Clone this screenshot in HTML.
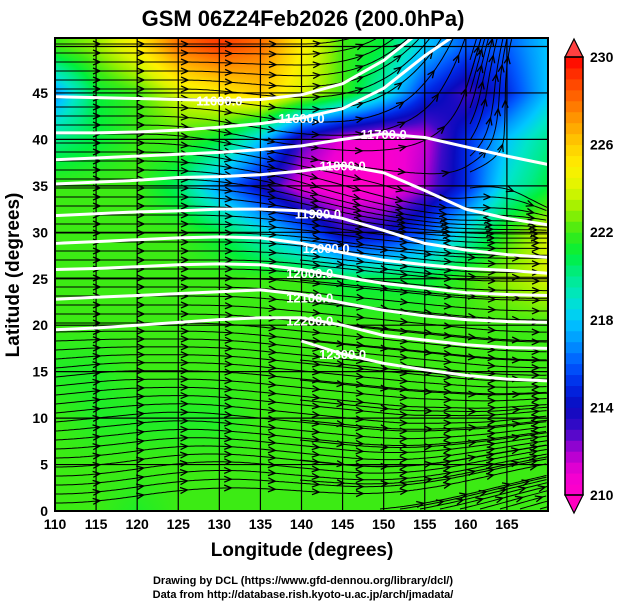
<!DOCTYPE html>
<html><head><meta charset="utf-8">
<style>
body{margin:0;background:#fff;width:619px;height:605px;overflow:hidden;font-family:"Liberation Sans",sans-serif}
svg text{font-family:"Liberation Sans",sans-serif;font-weight:bold;fill:#000}
</style></head><body>
<svg id="chart" width="619" height="605" xmlns="http://www.w3.org/2000/svg">
<text x="303" y="26" font-size="22" text-anchor="middle">GSM 06Z24Feb2026 (200.0hPa)</text>
<foreignObject x="55" y="38" width="493" height="473"><canvas xmlns="http://www.w3.org/1999/xhtml" id="cv" width="493" height="473"></canvas></foreignObject>
<g id="grid"></g>
<g id="stream"></g>
<g id="contours"></g>
<rect x="55" y="38" width="493" height="473" fill="none" stroke="#000" stroke-width="2"/>
<g id="xticks"></g>
<g id="yticks"></g>
<text x="302" y="556" font-size="19" text-anchor="middle">Longitude (degrees)</text>
<text transform="translate(19,275) rotate(-90)" font-size="19" text-anchor="middle">Latitude  (degrees)</text>
<g id="cbar"></g>
<text x="303" y="584" font-size="11" text-anchor="middle">Drawing by DCL (https://www.gfd-dennou.org/library/dcl/)</text>
<text x="303" y="598" font-size="11" text-anchor="middle">Data from http://database.rish.kyoto-u.ac.jp/arch/jmadata/</text>
</svg>
<script>
// data
const lons=[110,115,120,125,130,135,140,145,150,155,160,165,170];
const lats=[50,45,40,35,30,25,20,15,10,5,0];
const temp=[
[222,223,225,228,229,228,225,222,221,218,216,216,218],
[217,221,222,224,225,226,224,222,219,215,213,215,218],
[220,221,222,222,221,218,213,211,210.5,211.5,215,218,220],
[222,222,222,220.5,217,214,211,210,210,212,215,219,221],
[222,222,222,222,221,219,216.5,213.5,214,216,219,222,224],
[222,222,222,222,222,222,222,221,221,221,222,223,224],
[222,222,222,222,222,222,222,222,222,222,222,222,222],
[221.5,221.5,222,222,222,222,222,222,222,222,222,222,222],
[222,221.5,221.5,221.5,221.5,222,222,222,222,222,222,222,222],
[222,222,222,222,222,222,222,222,222,222,222,222,222],
[222,222,221.5,222,222,222,222,222,222,222,222,222,222]];
const uWind=[
[1,1,1,1,1,1,1,1,0.8,0.6,0.3,0.2,0.3],
[1,1,1,1,1,1,1,1,0.9,0.6,0.3,0,-0.2],
[1,1,1,1,1,1,1,1,1,0.8,0.4,0,-0.4],
[1,1,1,1,1,1,1,1,1,1,0.6,0.3,0.2],
[1,1,1,1,1,1,1,1,1,1,1,1,1],
[1,1,1,1,1,1,1,1,1,1,1,1,1],
[1,1,1,1,1,1,1,1,1,1,1,1,1],
[1,1,1,1,1,1,1,1,1,1,1,1,1],
[1,1,1,1,1,1,1,1,1,1,1,1,1],
[1,1,1,1,1,1,1,1,1,1,1,1,1],
[1,1,1,1,1,1,1,1,1,1,1,1,1]];
const vWind=[
[0,0,0,0,0,0,0,0.2,0.5,0.7,0.9,1,0.8],
[0,0,0,0,-0.1,-0.1,0,0.2,0.5,0.7,0.9,1,0.6],
[0,0,0,-0.1,-0.2,-0.2,-0.1,0,0.2,0.4,0.6,0.3,-0.5],
[0,0,0,0,-0.1,-0.2,-0.3,-0.3,-0.3,-0.2,0.1,-0.1,-0.5],
[0,0,0,0,0,-0.05,-0.1,-0.15,-0.1,-0.1,-0.05,0,0],
[0,0,0,0,0,-0.05,-0.1,-0.1,-0.1,-0.1,-0.05,0,0],
[0,0,0,0,-0.05,-0.1,-0.1,-0.1,-0.1,-0.1,-0.1,-0.05,0],
[0.1,0.1,0,0,-0.05,-0.1,-0.1,-0.1,-0.1,-0.1,-0.1,-0.05,0],
[0.1,0.1,0.1,0,-0.1,-0.1,-0.1,-0.1,-0.1,0,0,0.1,0.1],
[0,0.1,0.15,0.1,0,-0.1,-0.1,-0.1,0,0.1,0.2,0.2,0.2],
[0,0.1,0.15,0.1,0.05,0,-0.05,0,0.1,0.2,0.25,0.3,0.3]];
const contourLons=[110,115,120,125,130,135,140,145,150,155,160,165,170];
const contourLats=[
[44.6,44.5,44.4,44.3,44.2,44.3,44.8,46,48.5,52,null,null,null],
[40.7,40.7,40.8,41,41.3,41.7,42.3,43.3,45.5,49,52,null,null],
[37.8,38,38.2,38.4,38.6,38.9,39.3,40,40.6,40.2,39.2,38.2,37.3],
[35.2,35.4,35.6,35.9,36,36.2,36.6,37.2,36.4,34.5,32.5,31.5,30.8],
[31.8,32,32.2,32.3,32.5,32.5,32.3,31.5,30.2,28.8,28.1,27.6,27.3],
[28.8,29,29.2,29.4,29.5,29.4,28.8,27.8,27,26.5,26.1,25.9,25.6],
[26,26.1,26.3,26.5,26.6,26.5,26,25.2,24.5,24,23.5,23.3,23.2],
[22.8,23,23.2,23.4,23.6,23.8,23.3,22.4,21.6,21,20.6,20.4,20.3],
[19.5,19.7,20,20.3,20.6,20.8,20.8,20,18.9,18.4,17.9,17.6,17.5],
[null,null,null,null,null,null,18.3,16.9,15.9,15.2,14.6,14.2,14]];
const contourLabels=[["11600.0",130,44.2],["11600.0",140,42.3],["11700.0",150,40.6],["11800.0",145,37.2],["11900.0",142,32],["12000.0",143,28.3],["12000.0",141,25.6],["12100.0",141,23],["12200.0",141,20.5],["12300.0",145,16.9]];
const cbTicks=[230,226,222,218,214,210];
const xTickVals=[110,115,120,125,130,135,140,145,150,155,160,165];
const yTickVals=[0,5,10,15,20,25,30,35,40,45];

const X0=55,Y0=511,PX=493/60,PY=9.29;
const xs=lon=>X0+(lon-110)*PX, ys=lat=>Y0-lat*PY;
const NS="http://www.w3.org/2000/svg";
function mk(tag,parent,attrs){const e=document.createElementNS(NS,tag);for(const k in attrs)e.setAttribute(k,attrs[k]);parent.appendChild(e);return e;}
const stops=[[210,255,0,200],[211,240,0,210],[212,170,0,210],[213,60,10,200],[214,10,10,190],[215,0,40,230],[216,0,90,255],[217,0,150,255],[218,0,200,255],[219,0,230,200],[220,0,235,140],[221,0,240,60],[222,60,235,20],[223,150,240,0],[224,220,245,0],[225,255,240,0],[226,255,205,0],[227,255,160,0],[228,255,110,0],[229,255,60,0],[230,255,0,0]];
function cmap(t){t=Math.max(210,Math.min(230,t));for(let i=0;i<stops.length-1;i++){const a=stops[i],b=stops[i+1];if(t<=b[0]){const f=(t-a[0])/(b[0]-a[0]);return [a[1]+(b[1]-a[1])*f,a[2]+(b[2]-a[2])*f,a[3]+(b[3]-a[3])*f];}}return stops[stops.length-1].slice(1);}
function interp(g,lon,lat){let fi=(50-lat)/5,fj=(lon-110)/5;fi=Math.max(0,Math.min(10,fi));fj=Math.max(0,Math.min(12,fj));const i=Math.min(9,Math.floor(fi)),j=Math.min(11,Math.floor(fj)),a=fi-i,b=fj-j;return g[i][j]*(1-a)*(1-b)+g[i][j+1]*(1-a)*b+g[i+1][j]*a*(1-b)+g[i+1][j+1]*a*b;}
// field
const cv=document.getElementById('cv'),ctx=cv.getContext('2d'),img=ctx.createImageData(493,473);
for(let y=0;y<473;y++)for(let x=0;x<493;x++){const lon=110+x/PX,lat=(Y0-38-y)/PY;const c=cmap(interp(temp,lon,lat));const k=(y*493+x)*4;img.data[k]=c[0];img.data[k+1]=c[1];img.data[k+2]=c[2];img.data[k+3]=255;}
ctx.putImageData(img,0,0);
// grid
const grid=document.getElementById('grid');
for(let lon=115;lon<170;lon+=5){const l=mk('line',grid,{x1:xs(lon),x2:xs(lon),y1:38,y2:511,stroke:'#000','stroke-width':1.2});}
for(let lat=5;lat<=50;lat+=5){const l=mk('line',grid,{x1:55,x2:548,y1:ys(lat),y2:ys(lat),stroke:'#000','stroke-width':1.2});}
// streamlines
const st=document.getElementById('stream');
function trace(x,y){let pts=[[x,y]],arrows=[],acc=0;for(let n=0;n<400;n++){const lon=110+(x-55)/PX,lat=(Y0-y)/PY;let u=interp(uWind,lon,lat),v=interp(vWind,lon,lat);const m=Math.hypot(u,v);if(m<0.05)break;u/=m;v/=m;x+=u*2;y-=v*2;if(x<55||x>548||y<38||y>511)break;pts.push([x,y]);acc+=2;if(acc>=44){acc=0;arrows.push([x,y,u,-v]);}}return [pts,arrows];}
const seeds=[];for(let y=44;y<511;y+=9)seeds.push([56,y]);
for(let x=380;x<548;x+=20)seeds.push([x,509]);for(let y=60;y<200;y+=16)seeds.push([470,y]);for(let y=240;y<500;y+=20)seeds.push([300,y]);
seeds.forEach(s=>{const [pts,arr]=trace(s[0],s[1]);if(pts.length<5)return;
const p=mk('path',st,{d:'M'+pts.map(q=>q[0].toFixed(1)+','+q[1].toFixed(1)).join('L'),fill:'none',stroke:'#000','stroke-width':1});

arr.forEach(a=>{const [x,y,dx,dy]=a,nx=-dy,ny=dx;const h=mk('path',st,{d:`M${x-7*dx+3*nx},${y-7*dy+3*ny}L${x},${y}L${x-7*dx-3*nx},${y-7*dy-3*ny}`,fill:'none',stroke:'#000','stroke-width':1.3});});});
// contours
const cg=document.getElementById('contours');
contourLats.forEach(row=>{let d='';row.forEach((lat,i)=>{if(lat==null)return;d+=(d?'L':'M')+xs(contourLons[i]).toFixed(1)+','+ys(lat).toFixed(1);});
const p=mk('path',cg,{d:d,fill:'none',stroke:'#fff','stroke-width':3,'stroke-linejoin':'round'});});
contourLabels.forEach(l=>{const t=mk('text',cg,{x:xs(l[1]),y:ys(l[2])+5,'font-size':13,'text-anchor':'middle',fill:'#fff',style:'fill:#fff'});t.textContent=l[0];});
// ticks
const xt=document.getElementById('xticks');
xTickVals.forEach(v=>{const t=mk('text',xt,{x:xs(v),y:529,'font-size':14,'text-anchor':'middle'});t.textContent=v;});
const yt=document.getElementById('yticks');
yTickVals.forEach(v=>{const t=mk('text',yt,{x:48,y:ys(v)+5,'font-size':14,'text-anchor':'end'});t.textContent=v;});
// colorbar
const cb=document.getElementById('cbar');const cy=t=>57+(230-t)*(438/20);
for(let t=210;t<230;t+=0.5){const c=cmap(t+0.25);const r=mk('rect',cb,{x:565,y:cy(t+0.5),width:18,height:438/40+0.5,fill:`rgb(${c.map(Math.round)})`});}
const tu=mk('path',cb,{d:'M565,57L574,39L583,57Z',fill:'#ff4040',stroke:'#000','stroke-width':1.2});
const td=mk('path',cb,{d:'M565,495L574,513L583,495Z',fill:'#ff00c0',stroke:'#000','stroke-width':1.2});
const fr=mk('rect',cb,{x:565,y:57,width:18,height:438,fill:'none',stroke:'#000','stroke-width':1.5});
cbTicks.forEach(v=>{const t=mk('text',cb,{x:590,y:cy(v)+5,'font-size':14});t.textContent=v;});
</script>
</body></html>
